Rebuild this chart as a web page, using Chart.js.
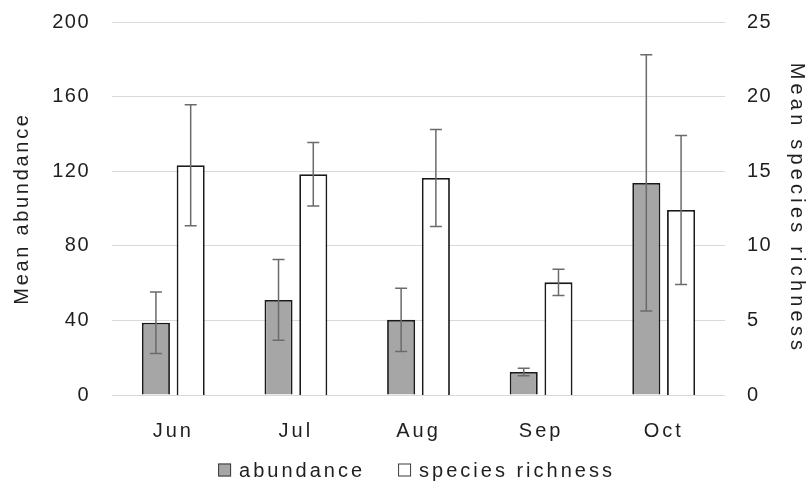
<!DOCTYPE html>
<html>
<head>
<meta charset="utf-8">
<script src="https://cdn.jsdelivr.net/npm/chart.js@4.4.6/dist/chart.umd.min.js"></script>
<style>
  html, body { margin: 0; padding: 0; background: #fff; }
  #wrap { width: 812px; height: 495px; position: relative; }
</style>
</head>
<body>
<div id="wrap"><canvas id="grafico"></canvas></div>
<script>
// Datos
const meses = ['Jun', 'Jul', 'Aug', 'Sep', 'Oct'];
const abundancia = [38.7, 51, 40.3, 12.3, 113.7];
const abundanciaErr = [16.5, 21.7, 17, 2, 68.7];
const riqueza = [15.4, 14.8, 14.55, 7.55, 12.4];
const riquezaErr = [4.05, 2.13, 3.25, 0.88, 5];
const ticksIzq = [0, 40, 80, 120, 160, 200];
const ticksDer = [0, 5, 10, 15, 20, 25];

const texto = '#1f1f1f';
const familia = '"Liberation Sans", Arial, sans-serif';
const fuente = { family: familia, size: 20 };

// Chart.js no expone letterSpacing: envolvemos los métodos de dibujo
const conEspaciado = (obj, metodo, px) => {
  const orig = obj[metodo];
  obj[metodo] = function (...args) {
    const ctx = this.ctx;
    ctx.save();
    ctx.letterSpacing = px + 'px';
    const r = orig.apply(this, args);
    ctx.restore();
    return r;
  };
};

const espaciado = {
  id: 'espaciado',
  afterLayout(chart) {
    if (chart._espaciado) return;
    chart._espaciado = true;
    conEspaciado(chart.scales.x, 'drawLabels', 3);
    conEspaciado(chart.scales.yIzq, 'drawLabels', 1.5);
    conEspaciado(chart.scales.yDer, 'drawLabels', 1.5);
    conEspaciado(chart.scales.yIzq, 'drawTitle', 2.7);
    conEspaciado(chart.scales.yDer, 'drawTitle', 4.2);
  },
};

// Leyenda propia para poder espaciarla como el original
const leyenda = {
  id: 'leyenda',
  afterDraw(chart) {
    const ctx = chart.ctx;
    const area = chart.chartArea;
    const y = 470, lado = 13, huecoTexto = 8, huecoItem = 33;
    ctx.save();
    ctx.font = '20px ' + familia;
    ctx.letterSpacing = '3px';
    ctx.textBaseline = 'middle';
    const items = chart.data.datasets.map(ds => ({
      texto: ds.label, fondo: ds.backgroundColor, ancho: ctx.measureText(ds.label).width,
    }));
    const total = items.reduce((s, it) => s + lado + huecoTexto + it.ancho, 0) + huecoItem * (items.length - 1);
    let x = (area.left + area.right) / 2 - total / 2 - 2;
    items.forEach(it => {
      ctx.fillStyle = it.fondo;
      ctx.fillRect(x, y - lado / 2, lado, lado);
      ctx.strokeStyle = '#3a3a3a';
      ctx.lineWidth = 1;
      ctx.strokeRect(x + 0.5, y - lado / 2 + 0.5, lado - 1, lado - 1);
      ctx.fillStyle = texto;
      ctx.fillText(it.texto, x + lado + huecoTexto, y + 1);
      x += lado + huecoTexto + it.ancho + huecoItem;
    });
    ctx.restore();
  },
};

// Barras de error dibujadas con las escalas de Chart.js
const barrasError = {
  id: 'barrasError',
  afterDatasetsDraw(chart) {
    const ctx = chart.ctx;
    ctx.save();
    ctx.strokeStyle = '#6b6b6b';
    ctx.lineWidth = 1.5;
    chart.data.datasets.forEach((ds, i) => {
      const meta = chart.getDatasetMeta(i);
      const escala = chart.scales[ds.yAxisID];
      meta.data.forEach((barra, j) => {
        const v = ds.data[j], e = ds.errores[j];
        const x = barra.x;
        const yA = escala.getPixelForValue(v + e);
        const yB = escala.getPixelForValue(v - e);
        ctx.beginPath();
        ctx.moveTo(x, yA); ctx.lineTo(x, yB);
        ctx.moveTo(x - 6, yA); ctx.lineTo(x + 6, yA);
        ctx.moveTo(x - 6, yB); ctx.lineTo(x + 6, yB);
        ctx.stroke();
      });
    });
    ctx.restore();
  }
};

const sinRelleno = s => { s.paddingTop = 0; s.paddingBottom = 0; };

new Chart(document.getElementById('grafico'), {
  type: 'bar',
  data: {
    labels: meses,
    datasets: [
      {
        label: 'abundance',
        data: abundancia,
        errores: abundanciaErr,
        yAxisID: 'yIzq',
        backgroundColor: '#a6a6a6',
        borderColor: '#1a1a1a',
        borderWidth: 1.8,
        categoryPercentage: 0.567,
        barPercentage: 0.807,
      },
      {
        label: 'species richness',
        data: riqueza,
        errores: riquezaErr,
        yAxisID: 'yDer',
        backgroundColor: '#ffffff',
        borderColor: '#1a1a1a',
        borderWidth: 1.8,
        categoryPercentage: 0.567,
        barPercentage: 0.807,
      },
    ],
  },
  options: {
    responsive: true,
    maintainAspectRatio: false,
    animation: false,
    layout: { padding: { top: 22, bottom: 45, left: 10, right: 3 } },
    plugins: {
      tooltip: { enabled: false },
      legend: { display: false },
    },
    scales: {
      x: {
        grid: { display: false, drawTicks: false },
        border: { display: false },
        ticks: { color: texto, font: fuente, padding: 24 },
        afterFit(s) { s.height = 55; },
      },
      yIzq: {
        position: 'left',
        min: 0, max: 200,
        afterBuildTicks(s) { s.ticks = ticksIzq.map(v => ({ value: v })); },
        grid: { color: '#d9d9d9', lineWidth: 1, drawTicks: false },
        border: { display: false },
        ticks: { color: texto, font: fuente, padding: 22 },
        title: { display: true, text: 'Mean abundance', color: texto, font: fuente, padding: 0 },
        afterFit(s) { s.width = 102; sinRelleno(s); },
      },
      yDer: {
        position: 'right',
        min: 0, max: 25,
        afterBuildTicks(s) { s.ticks = ticksDer.map(v => ({ value: v })); },
        grid: { display: false, drawTicks: false },
        border: { display: false },
        ticks: { color: texto, font: fuente, padding: 22 },
        title: { display: true, text: 'Mean species richness', color: texto, font: fuente, padding: 0 },
        afterFit(s) { s.width = 84; sinRelleno(s); },
      },
    },
  },
  plugins: [espaciado, barrasError, leyenda],
});
</script>
</body>
</html>
